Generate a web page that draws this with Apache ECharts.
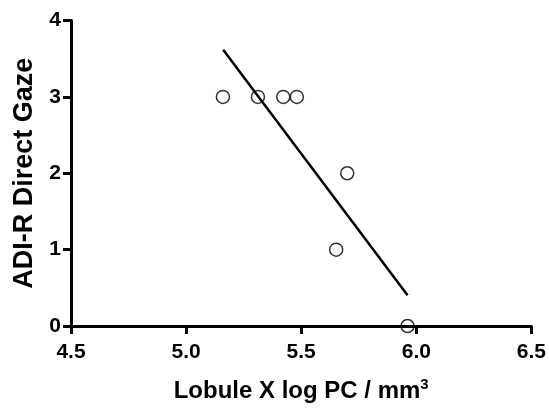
<!DOCTYPE html>
<html><head><meta charset="utf-8">
<script src="https://cdn.jsdelivr.net/npm/echarts@6/dist/echarts.min.js"></script>
<style>html,body{margin:0;padding:0;background:#fff}#c{width:549px;height:408px}</style>
</head><body><div id="c"></div>
<script>
const pcLog = [5.160, 5.312, 5.422, 5.481, 5.700, 5.652, 5.962];
const directGaze = [3, 3, 3, 3, 2, 1, 0];
const fitX = [5.161, 5.962];
const fitY = [3.616, 0.401];
const xTicks = [4.5, 5.0, 5.5, 6.0, 6.5];
const yTicks = [0, 1, 2, 3, 4];

const ff = 'Liberation Sans, Arial, sans-serif';
const chart = echarts.init(document.getElementById('c'), null, {renderer: 'canvas'});
chart.setOption({
  animation: false,
  backgroundColor: '#fff',
  grid: {left: 71, right: 17, top: 20.5, bottom: 80.5},
  xAxis: {
    type: 'value', min: 4.5, max: 6.5, interval: 0.5,
    axisLine: {show: true, onZero: false, lineStyle: {color: '#000', width: 3}},
    axisTick: {show: true, length: 8, lineStyle: {color: '#000', width: 3}},
    splitLine: {show: false},
    axisLabel: {color: '#000', fontFamily: ff, fontWeight: 'bold', fontSize: 21, margin: 16,
      formatter: v => xTicks.includes(+v.toFixed(1)) ? v.toFixed(1) : ''},
    name: '{a|Lobule X log PC / mm}{s|3}',
    nameLocation: 'middle', nameGap: 51,
    nameTextStyle: {rich: {
      a: {color: '#000', fontFamily: ff, fontWeight: 'bold', fontSize: 24},
      s: {color: '#000', fontFamily: ff, fontWeight: 'bold', fontSize: 15, verticalAlign: 'top', padding: [0,0,13,0]}
    }}
  },
  yAxis: {
    type: 'value', min: 0, max: 4, interval: 1,
    axisLine: {show: true, onZero: false, lineStyle: {color: '#000', width: 3}},
    axisTick: {show: true, length: 8, lineStyle: {color: '#000', width: 3}},
    splitLine: {show: false},
    axisLabel: {color: '#000', fontFamily: ff, fontWeight: 'bold', fontSize: 21, margin: 10,
      formatter: v => yTicks.includes(v) ? String(v) : ''},
    name: 'ADI-R Direct Gaze', nameLocation: 'middle', nameGap: 31,
    nameTextStyle: {color: '#000', fontFamily: ff, fontWeight: 'bold', fontSize: 27}
  },
  series: [
    {type: 'line', data: fitX.map((x, i) => [x, fitY[i]]), symbol: 'none',
     lineStyle: {color: '#000', width: 2.5}, z: 2},
    {type: 'scatter', data: pcLog.map((x, i) => [x, directGaze[i]]), symbol: 'circle', symbolSize: 13,
     itemStyle: {color: 'rgba(255,255,255,0)', borderColor: '#000', borderWidth: 1.5}, z: 3}
  ]
});
</script></body></html>
